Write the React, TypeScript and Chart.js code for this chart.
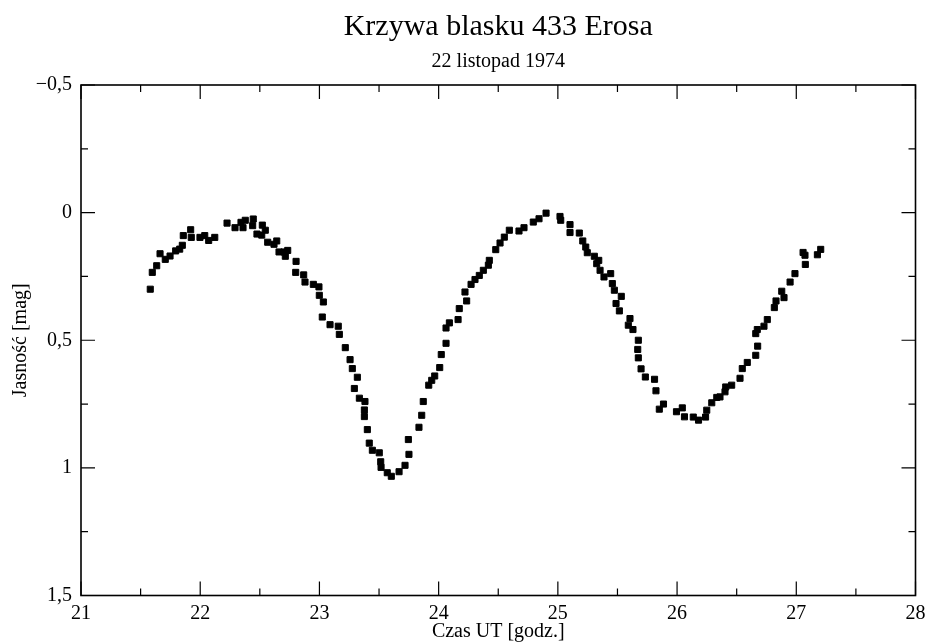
import React, { useEffect, useRef } from "react";
import { Chart, registerables } from "chart.js";

Chart.register(...registerables);

// Light curve of 433 Eros, 22 Nov 1974
const times: number[] = [
  21.581, 21.598, 21.635, 21.663, 21.707, 21.747, 21.794, 21.828, 21.850, 21.858,
  21.920, 21.925, 21.998, 22.038, 22.071, 22.122, 22.225, 22.292, 22.342, 22.359,
  22.378, 22.440, 22.445, 22.476, 22.516, 22.521, 22.546, 22.566, 22.619, 22.642,
  22.661, 22.703, 22.714, 22.734, 22.804, 22.801, 22.868, 22.879, 22.949, 22.996,
  22.999, 23.033, 23.024, 23.089, 23.158, 23.167, 23.217, 23.257, 23.276, 23.318,
  23.293, 23.335, 23.382, 23.377, 23.377, 23.402, 23.418, 23.444, 23.502, 23.514,
  23.517, 23.569, 23.603, 23.668, 23.718, 23.751, 23.746, 23.835, 23.858, 23.871,
  23.917, 23.942, 23.967, 24.009, 24.022, 24.062, 24.062, 24.090, 24.163, 24.173,
  24.221, 24.235, 24.272, 24.305, 24.341, 24.375, 24.417, 24.425, 24.479, 24.515,
  24.551, 24.593, 24.674, 24.716, 24.794, 24.842, 24.901, 25.018, 25.024, 25.102,
  25.102, 25.180, 25.209, 25.234, 25.247, 25.306, 25.326, 25.343, 25.354, 25.387,
  25.443, 25.457, 25.474, 25.488, 25.516, 25.532, 25.591, 25.605, 25.630, 25.675,
  25.670, 25.675, 25.698, 25.734, 25.811, 25.823, 25.851, 25.886, 25.995, 26.044,
  26.062, 26.136, 26.180, 26.239, 26.249, 26.291, 26.333, 26.360, 26.402, 26.408,
  26.458, 26.528, 26.547, 26.589, 26.660, 26.676, 26.660, 26.673, 26.729, 26.757,
  26.816, 26.830, 26.878, 26.897, 26.948, 26.989, 27.057, 27.073, 27.076, 27.177, 27.205,
];

const magnitudes: number[] = [
  0.300, 0.234, 0.208, 0.161, 0.183, 0.170, 0.150, 0.143, 0.128, 0.090,
  0.067, 0.097, 0.097, 0.090, 0.109, 0.097, 0.041, 0.059, 0.038, 0.059,
  0.030, 0.051, 0.025, 0.084, 0.088, 0.049, 0.069, 0.116, 0.124, 0.111,
  0.154, 0.154, 0.171, 0.148, 0.191, 0.234, 0.244, 0.272, 0.281, 0.291,
  0.324, 0.350, 0.409, 0.439, 0.445, 0.477, 0.529, 0.576, 0.611, 0.645,
  0.689, 0.727, 0.740, 0.773, 0.799, 0.850, 0.903, 0.931, 0.941, 0.976,
  0.998, 1.019, 1.033, 1.015, 0.990, 0.947, 0.889, 0.841, 0.794, 0.740,
  0.676, 0.657, 0.640, 0.607, 0.556, 0.512, 0.452, 0.432, 0.419, 0.376,
  0.311, 0.346, 0.281, 0.262, 0.246, 0.226, 0.206, 0.187, 0.145, 0.119,
  0.096, 0.069, 0.072, 0.059, 0.037, 0.024, 0.002, 0.015, 0.030, 0.047,
  0.078, 0.080, 0.111, 0.135, 0.157, 0.171, 0.200, 0.187, 0.226, 0.252,
  0.239, 0.278, 0.304, 0.356, 0.385, 0.328, 0.441, 0.415, 0.458, 0.500,
  0.536, 0.569, 0.612, 0.644, 0.653, 0.698, 0.770, 0.750, 0.780, 0.765,
  0.800, 0.801, 0.813, 0.801, 0.774, 0.745, 0.724, 0.722, 0.702, 0.683,
  0.676, 0.649, 0.611, 0.587, 0.559, 0.523, 0.474, 0.458, 0.445, 0.419,
  0.372, 0.346, 0.308, 0.333, 0.272, 0.239, 0.156, 0.167, 0.203, 0.165, 0.144,
];

const xTickValues: number[] = [21, 22, 23, 24, 25, 26, 27, 28];
const xTickLabels: string[] = ["21", "22", "23", "24", "25", "26", "27", "28"];
const yTickValues: number[] = [-0.5, 0, 0.5, 1, 1.5];
const yTickLabels: string[] = ["\u22120,5", "0", "0,5", "1", "1,5"];

const titleText = "Krzywa blasku 433 Erosa";
const subtitleText = "22 listopad 1974";
const xTitle = "Czas UT [godz.]";
const yTitle = "Jasność [mag]";

const FONT = "'Liberation Serif', 'Times New Roman', serif";

const labelFor = (values: number[], labels: string[], v: number) => {
  const i = values.findIndex((d) => Math.abs(d - v) < 1e-9);
  return i >= 0 ? labels[i] : "";
};

const frameTicks = {
  id: "frameTicks",
  afterDatasetsDraw(chart: any) {
    const { ctx, chartArea: a, scales } = chart;
    const xs = scales.x;
    const ys = scales.y;
    const mids = (v: number[]) => v.slice(0, -1).map((d, i) => (d + v[i + 1]) / 2);
    const xMinor = mids(xTickValues);
    const yMinor = mids(yTickValues);
    ctx.save();
    ctx.strokeStyle = "#000";
    ctx.lineWidth = 1.2;
    ctx.beginPath();
    const vx = (vals: number[], len: number) => {
      for (const v of vals) {
        const p = xs.getPixelForValue(v);
        ctx.moveTo(p, a.bottom);
        ctx.lineTo(p, a.bottom - len);
        ctx.moveTo(p, a.top);
        ctx.lineTo(p, a.top + len);
      }
    };
    const vy = (vals: number[], len: number) => {
      for (const v of vals) {
        const p = ys.getPixelForValue(v);
        ctx.moveTo(a.left, p);
        ctx.lineTo(a.left + len, p);
        ctx.moveTo(a.right, p);
        ctx.lineTo(a.right - len, p);
      }
    };
    vx(xTickValues, 14);
    vx(xMinor, 7);
    vy(yTickValues, 14);
    vy(yMinor, 7);
    ctx.stroke();
    ctx.lineWidth = 1.6;
    ctx.strokeRect(a.left, a.top, a.right - a.left, a.bottom - a.top);
    ctx.restore();
  },
};

export default function App() {
  const canvasRef = useRef<HTMLCanvasElement | null>(null);

  useEffect(() => {
    const canvas = canvasRef.current;
    if (!canvas) return;
    const points = times.map((t, i) => ({ x: t, y: magnitudes[i] }));
    const chart = new Chart(canvas, {
      type: "scatter",
      data: {
        datasets: [
          {
            data: points,
            pointStyle: "rect",
            pointRadius: 4.3,
            pointBorderWidth: 1,
            backgroundColor: "#000",
            borderColor: "#000",
            pointHoverRadius: 4.3,
          },
        ],
      },
      options: {
        responsive: false,
        animation: false,
        devicePixelRatio: 1,
        layout: { padding: { top: 0, right: 12.5, bottom: 0, left: 0 } },
        plugins: {
          legend: { display: false },
          tooltip: { enabled: false },
          title: {
            display: true,
            text: titleText,
            fullSize: false,
            color: "#000",
            font: { family: FONT, size: 30, weight: "normal", lineHeight: 1.2 },
            padding: { top: 9, bottom: 0 },
          },
          subtitle: {
            display: true,
            text: subtitleText,
            fullSize: false,
            color: "#000",
            font: { family: FONT, size: 20, weight: "normal", lineHeight: 1.2 },
            padding: { top: 5, bottom: 11 },
          },
        },
        scales: {
          x: {
            type: "linear",
            min: 21,
            max: 28,
            ticks: {
              stepSize: 1,
              color: "#000",
              padding: 6,
              font: { family: FONT, size: 20 },
              callback: (v: any) => labelFor(xTickValues, xTickLabels, Number(v)),
              maxRotation: 0,
            },
            grid: { display: false, drawTicks: false },
            border: { display: false },
            title: {
              display: true,
              text: xTitle,
              color: "#000",
              font: { family: FONT, size: 20, lineHeight: 1.2 },
              padding: { top: 0, bottom: 0 },
            },
            afterFit: (s: any) => {
              s.height = 48.5;
              s.paddingLeft = 0;
              s.paddingRight = 0;
            },
          },
          y: {
            type: "linear",
            reverse: true,
            min: -0.5,
            max: 1.5,
            ticks: {
              stepSize: 0.5,
              color: "#000",
              padding: 9,
              font: { family: FONT, size: 20 },
              callback: (v: any) => labelFor(yTickValues, yTickLabels, Number(v)),
            },
            grid: { display: false, drawTicks: false },
            border: { display: false },
            title: {
              display: true,
              text: yTitle,
              color: "#000",
              font: { family: FONT, size: 20, lineHeight: 1.2 },
              padding: { top: 9, bottom: 0 },
            },
            afterFit: (s: any) => {
              s.width = 81;
              s.paddingTop = 0;
              s.paddingBottom = 0;
            },
          },
        },
      },
      plugins: [frameTicks],
    });
    return () => chart.destroy();
  }, []);

  return (
    <div style={{ position: "absolute", left: 0, top: 0, width: 928, height: 644, background: "#fff" }}>
      <canvas ref={canvasRef} width={928} height={644} style={{ width: 928, height: 644, display: "block" }} />
    </div>
  );
}
